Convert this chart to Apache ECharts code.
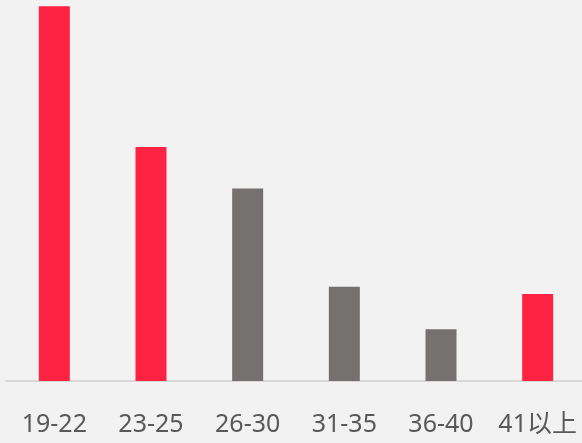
<!DOCTYPE html>
<html><head><meta charset="utf-8">
<script src="https://cdn.jsdelivr.net/npm/echarts@6/dist/echarts.min.js"></script>
<style>html,body{margin:0;padding:0;background:#f2f2f2;overflow:hidden;}#c{width:590px;height:443px;}</style>
</head><body><div id="c"></div>
<script>
const categories = ['19-22','23-25','26-30','31-35','36-40','41以上'];
const values = [36.2, 22.6, 18.6, 9.1, 5.0, 8.4];
const highlight = [true, true, false, false, false, true];
const RED = '#ff2343', GRAY = '#767171';
const chart = echarts.init(document.getElementById('c'));
chart.setOption({
  backgroundColor: '#f2f2f2',
  animation: false,
  grid: {left: 6, width: 580, top: 0, bottom: 62},
  xAxis: {
    type: 'category', data: categories,
    axisLine: {lineStyle: {color: '#d9d9d9', width: 2}},
    axisTick: {show: false},
    axisLabel: {interval: 0, color: '#595959', fontSize: 25, margin: 31, fontFamily: '"Noto Sans", "Noto Sans CJK SC", sans-serif'}
  },
  yAxis: {type: 'value', min: 0, max: 36.8, show: false, splitLine: {show: false}},
  series: [{
    type: 'bar', barWidth: 31,
    data: values.map((v, i) => ({value: v, itemStyle: {color: highlight[i] ? RED : GRAY}}))
  }]
});
</script></body></html>
